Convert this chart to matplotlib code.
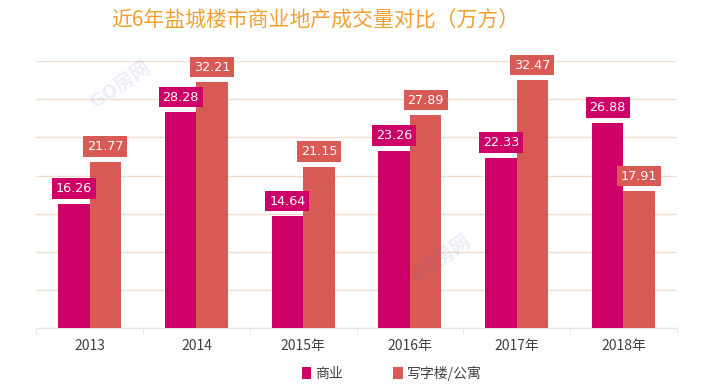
import matplotlib.pyplot as plt
import numpy as np

plt.rcParams['font.family'] = ['Noto Sans CJK SC', 'DejaVu Sans']

years = ["2013", "2014", "2015年", "2016年", "2017年", "2018年"]
commercial = [16.26, 28.28, 14.64, 23.26, 22.33, 26.88]
office = [21.77, 32.21, 21.15, 27.89, 32.47, 17.91]
series_names = ["商业", "写字楼/公寓"]

c_com = "#CC0066"
c_off = "#D75A55"

fig = plt.figure(figsize=(7.11, 3.87), dpi=100)
ax = fig.add_axes([0.051, 0.1525, 0.901, 0.6895])

x = np.arange(len(years))
w = 0.295
b1 = ax.bar(x - w / 2, commercial, w, color=c_com, label=series_names[0], zorder=3)
b2 = ax.bar(x + w / 2, office, w, color=c_off, label=series_names[1], zorder=3)

for bars, col in ((b1, c_com), (b2, c_off)):
    for r in bars:
        h = r.get_height()
        ax.annotate(f"{h:.2f}", (r.get_x() + r.get_width() / 2, h),
                    xytext=(0, 11), textcoords="offset points",
                    ha="center", va="center", color="white", fontsize=9.2,
                    family="DejaVu Sans",
                    bbox=dict(boxstyle="square,pad=0.3", fc=col, ec="none"),
                    zorder=5)

ax.set_xlim(-0.5, len(years) - 0.5)
ax.set_ylim(0, 35)
ax.set_yticks(np.arange(0, 36, 5))
ax.yaxis.grid(True, color="#F2DDCC", lw=1, zorder=0)
ax.tick_params(axis="y", left=False, labelleft=False)
ax.set_xticks(x)
ax.set_xticklabels(years, fontsize=10, color="#404040")
ax.tick_params(axis="x", length=0, pad=8)
ax.set_xticks(np.arange(-0.5, len(years), 1), minor=True)
ax.tick_params(axis="x", which="minor", length=4, color="#E4E4E4")
for s in ("top", "right", "left"):
    ax.spines[s].set_visible(False)
ax.spines["bottom"].set_color("#E4E4E4")

# faint watermark
for tx, ty in ((0.17, 0.78), (0.62, 0.33)):
    fig.text(tx, ty, "GO房网", color="#5A6FD0", alpha=0.12, rotation=35,
             fontsize=14, ha="center", va="center", weight="bold")

fig.text(0.443, 0.947, "近6年盐城楼市商业地产成交量对比（万方）", color="#F0A030",
         fontsize=15, ha="center", va="center")

ax.legend(loc="center", bbox_to_anchor=(0.555, -0.17), ncol=2, frameon=False,
          fontsize=10, handlelength=0.7, handleheight=0.9, handletextpad=0.3,
          columnspacing=3.6, labelcolor="#404040")

fig.savefig("out.png", dpi=100)
